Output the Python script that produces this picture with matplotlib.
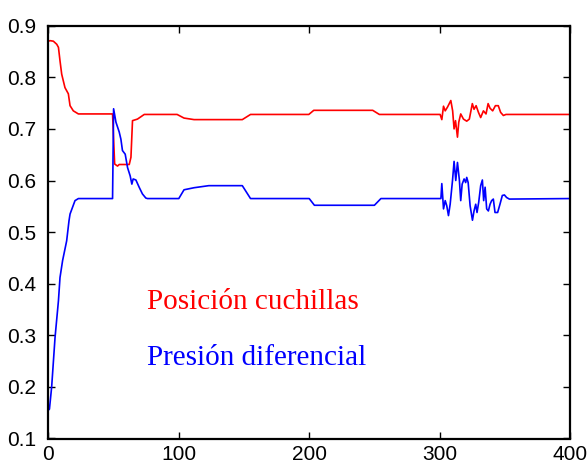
import matplotlib
matplotlib.use("Agg")
import matplotlib.pyplot as plt

# Posición cuchillas (red)
pos_x = [0, 1.3, 3.8, 6.4, 7.7, 8.9, 10.2, 12.7, 15.3, 16.6, 19.1, 23, 49.2,
         50.8, 53, 54.3, 62, 63.3, 64.5, 68.3, 73.5, 98.7, 104, 111.7, 148.7,
         155, 199.7, 203.5, 248.7, 253.8, 300.4,
         301.7, 303, 304.3, 306, 308.6, 310, 311.1, 312.2, 313.7, 314.7, 316.2,
         318.3, 320.8, 322.8, 325.1, 326.4, 328, 329.8, 331.5, 333.6, 335.6,
         337.2, 338.7, 340.7, 342.8, 345, 346.8, 348.9, 350.9, 400]
pos_y = [0.870, 0.871, 0.870, 0.864, 0.858, 0.832, 0.806, 0.780, 0.768, 0.745,
         0.735, 0.729, 0.729,
         0.632, 0.628, 0.631, 0.631, 0.645, 0.716, 0.719, 0.728, 0.728, 0.721,
         0.718, 0.718, 0.728, 0.728, 0.736, 0.736, 0.728, 0.728,
         0.718, 0.744, 0.735, 0.742, 0.755, 0.735, 0.700, 0.716, 0.684, 0.713,
         0.729, 0.719, 0.715, 0.719, 0.749, 0.738, 0.745, 0.732, 0.722, 0.735,
         0.729, 0.749, 0.740, 0.735, 0.745, 0.745, 0.732, 0.726, 0.728, 0.728]

# Presión diferencial (blue)
pres_x = [0, 0.8, 2.5, 5.1, 7.7, 8.9, 10.9, 14, 15.8, 16.6, 20.4, 23, 49.2,
          50, 51.8, 54.3, 55.6, 56.8, 58.9, 60.7, 62.7, 64, 65, 67.1, 69.6,
          72.1, 74.7, 76, 100, 104, 111.7, 123, 148.7, 155, 200, 204, 250,
          255, 301,
          301.7, 303, 304.3, 305.5, 306.8, 308.1, 309.9, 311.1, 312.4, 313.7,
          315.2, 316.2, 317.3, 318.8, 320, 320.8, 321.9, 323.4, 325.2, 326.4,
          327.7, 328.7, 330, 331.5, 332.8, 333.8, 334.9, 336.1, 337.4, 338.7,
          339.9, 341.2, 342.5, 344.5, 346.3, 348.1, 349.7, 351.4, 353.5, 400]
pres_y = [0.155, 0.157, 0.200, 0.296, 0.367, 0.412, 0.445, 0.483, 0.522, 0.535,
          0.561, 0.565, 0.565,
          0.739, 0.713, 0.694, 0.680, 0.658, 0.651, 0.625, 0.609, 0.593, 0.603,
          0.601, 0.587, 0.574, 0.566, 0.565, 0.565, 0.582, 0.586, 0.590, 0.590,
          0.565, 0.565, 0.552, 0.552, 0.565, 0.565,
          0.594, 0.545, 0.561, 0.551, 0.532, 0.554, 0.600, 0.637, 0.600, 0.635,
          0.600, 0.561, 0.593, 0.603, 0.596, 0.606, 0.596, 0.551, 0.523, 0.541,
          0.554, 0.538, 0.558, 0.590, 0.601, 0.561, 0.587, 0.545, 0.541, 0.554,
          0.561, 0.564, 0.538, 0.538, 0.554, 0.571, 0.572, 0.567, 0.564, 0.565]

x_ticks = [0, 100, 200, 300, 400]
y_ticks = [0.1, 0.2, 0.3, 0.4, 0.5, 0.6, 0.7, 0.8, 0.9]

fig = plt.figure(figsize=(5.87, 4.63), dpi=100)
ax = fig.add_axes([48.4 / 587, 1 - 438.5 / 463, (570 - 48.4) / 587, (438.5 - 25.7) / 463])

ax.plot(pos_x, pos_y, color="#ff0000", lw=1.2)
ax.plot(pres_x, pres_y, color="#0000ff", lw=1.2)

ax.set_xlim(0, 400)
ax.set_ylim(0.1, 0.9)
ax.set_xticks(x_ticks, labels=[str(t) for t in x_ticks])
ax.set_yticks(y_ticks, labels=[f"{t:.1f}" for t in y_ticks])
ax.tick_params(direction="in", length=5, width=1, top=True, right=True,
               labelsize=15)
ax.tick_params(axis="x", pad=5)
ax.tick_params(axis="y", pad=9)
for lab in ax.get_xticklabels() + ax.get_yticklabels():
    lab.set_family("Liberation Sans")
for sp in ax.spines.values():
    sp.set_linewidth(1.6)

ax.text(75.5, 0.365, "Posición cuchillas", color="#ff0000", fontsize=21,
        family="Liberation Serif", va="center", ha="left")
ax.text(75.5, 0.256, "Presión diferencial", color="#0000ff", fontsize=21,
        family="Liberation Serif", va="center", ha="left")

fig.savefig("out.png", dpi=100)
